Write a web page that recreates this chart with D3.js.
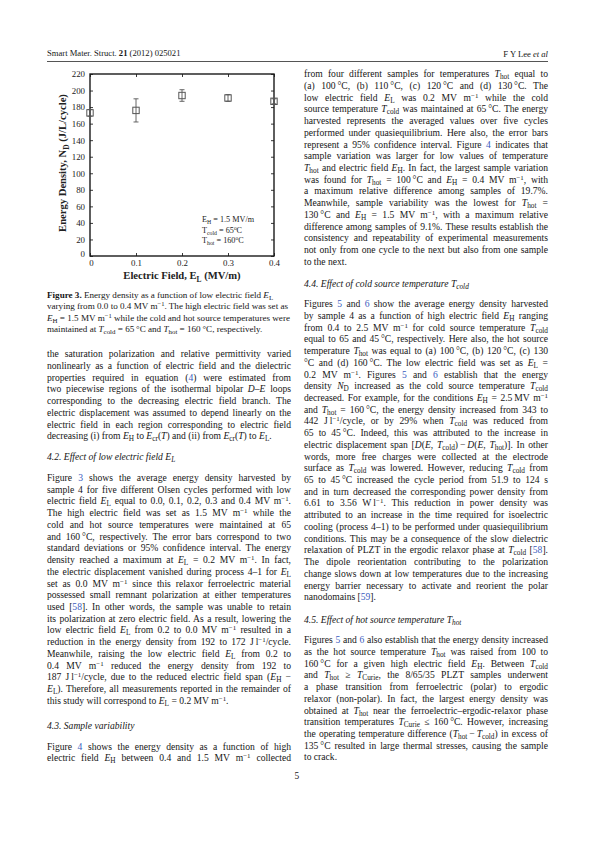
<!DOCTYPE html>
<html>
<head>
<meta charset="utf-8">
<script src="https://cdn.jsdelivr.net/npm/d3@7"></script>
<style>
  html, body { margin: 0; padding: 0; background: #fff; }
  #page { position: relative; width: 595px; height: 842px; overflow: hidden;
          font-family: "Liberation Serif", "DejaVu Serif", serif; color: #161616; }
  .ln { position: absolute; white-space: nowrap; line-height: 12px; }
  .ln sub { font-size: 76%; vertical-align: -0.28em; line-height: 0; }
  .ln sup { font-size: 72%; vertical-align: 0.42em; line-height: 0; }
  .ref { color: #3a5cc0; }
  #chart { position: absolute; left: 0; top: 0; }
  #chart text { font-family: "Liberation Serif", "DejaVu Serif", serif; fill: #222; }
</style>
</head>
<body>
<div id="page"></div>
<script>
// ---- chart data (figure 3) ----
const fieldEL = [0, 0.1, 0.2, 0.3, 0.4];
const energyND = [173, 176, 194, 191, 187];
const errorND = [4, 14, 7, 4, 3];
const xTicks = [0, 0.1, 0.2, 0.3, 0.4];
const yTicks = [0, 20, 40, 60, 80, 100, 120, 140, 160, 180, 200, 220];
const noteLines = [["E", "H", " = 1.5 MV/m"], ["T", "cold", " = 65", "C"], ["T", "hot", " = 160", "C"]];

// ---- text helpers ----
const ref = n => `<span class="ref">${n}</span>`;
const EL = '<i>E</i><sub>L</sub>', EH = '<i>E</i><sub>H</sub>', Ecr = '<i>E</i><sub>cr</sub>';
const Thot = '<i>T</i><sub>hot</sub>', Tcold = '<i>T</i><sub>cold</sub>';
const ND = '<i>N</i><sub>D</sub>', TCurie = '<i>T</i><sub>Curie</sub>';
const Mm = 'MV m<sup>\u22121</sup>', l1 = 'J\u2009l<sup>\u22121</sup>', dC = '\u2009\u00b0C';

const captionLines = [
  `<b>Figure 3.</b> Energy density as a function of low electric field ${EL}`,
  `varying from 0.0 to 0.4 ${Mm}. The high electric field was set as`,
  `${EH} = 1.5 ${Mm} while the cold and hot source temperatures were`,
  `maintained at ${Tcold} = 65${dC} and ${Thot} = 160${dC}, respectively.`
];

const leftParaA = [
  "the saturation polarization and relative permittivity varied",
  "nonlinearly as a function of electric field and the dielectric",
  `properties required in equation (${ref(4)}) were estimated from`,
  "two piecewise regions of the isothermal bipolar <i>D</i>\u2013<i>E</i> loops",
  "corresponding to the decreasing electric field branch. The",
  "electric displacement was assumed to depend linearly on the",
  "electric field in each region corresponding to electric field",
  `decreasing (i) from ${EH} to ${Ecr}(<i>T</i>) and (ii) from ${Ecr}(<i>T</i>) to ${EL}.`
];
const leftParaB = [
  `Figure ${ref(3)} shows the average energy density harvested by`,
  "sample 4 for five different Olsen cycles performed with low",
  `electric field ${EL} equal to 0.0, 0.1, 0.2, 0.3 and 0.4 ${Mm}.`,
  `The high electric field was set as 1.5 ${Mm} while the`,
  "cold and hot source temperatures were maintained at 65",
  `and 160${dC}, respectively. The error bars correspond to two`,
  "standard deviations or 95% confidence interval. The energy",
  `density reached a maximum at ${EL} = 0.2 ${Mm}. In fact,`,
  `the electric displacement vanished during process 4\u20131 for ${EL}`,
  `set as 0.0 ${Mm} since this relaxor ferroelectric material`,
  "possessed small remnant polarization at either temperatures",
  `used [${ref(58)}]. In other words, the sample was unable to retain`,
  "its polarization at zero electric field. As a result, lowering the",
  `low electric field ${EL} from 0.2 to 0.0 ${Mm} resulted in a`,
  `reduction in the energy density from 192 to 172 ${l1}/cycle.`,
  `Meanwhile, raising the low electric field ${EL} from 0.2 to`,
  `0.4 ${Mm} reduced the energy density from 192 to`,
  `187 ${l1}/cycle, due to the reduced electric field span (${EH} \u2212`,
  `${EL}). Therefore, all measurements reported in the remainder of`,
  `this study will correspond to ${EL} = 0.2 ${Mm}.`
];
const leftParaC = [
  `Figure ${ref(4)} shows the energy density as a function of high`,
  `electric field ${EH} between 0.4 and 1.5 ${Mm} collected`
];
const rightParaD = [
  `from four different samples for temperatures ${Thot} equal to`,
  `(a) 100${dC}, (b) 110${dC}, (c) 120${dC} and (d) 130${dC}. The`,
  `low electric field ${EL} was 0.2 ${Mm} while the cold`,
  `source temperature ${Tcold} was maintained at 65${dC}. The energy`,
  "harvested represents the averaged values over five cycles",
  "performed under quasiequilibrium. Here also, the error bars",
  `represent a 95% confidence interval. Figure ${ref(4)} indicates that`,
  "sample variation was larger for low values of temperature",
  `${Thot} and electric field ${EH}. In fact, the largest sample variation`,
  `was found for ${Thot} = 100${dC} and ${EH} = 0.4 ${Mm}, with`,
  "a maximum relative difference among samples of 19.7%.",
  `Meanwhile, sample variability was the lowest for ${Thot} =`,
  `130${dC} and ${EH} = 1.5 ${Mm}, with a maximum relative`,
  "difference among samples of 9.1%. These results establish the",
  "consistency and repeatability of experimental measurements",
  "not only from one cycle to the next but also from one sample",
  "to the next."
];
const rightParaE = [
  `Figures ${ref(5)} and ${ref(6)} show the average energy density harvested`,
  `by sample 4 as a function of high electric field ${EH} ranging`,
  `from 0.4 to 2.5 ${Mm} for cold source temperature ${Tcold}`,
  `equal to 65 and 45${dC}, respectively. Here also, the hot source`,
  `temperature ${Thot} was equal to (a) 100${dC}, (b) 120${dC}, (c) 130`,
  `\u00b0C and (d) 160${dC}. The low electric field was set as ${EL} =`,
  `0.2 ${Mm}. Figures ${ref(5)} and ${ref(6)} establish that the energy`,
  `density ${ND} increased as the cold source temperature ${Tcold}`,
  `decreased. For example, for the conditions ${EH} = 2.5\u2009${Mm}`,
  `and ${Thot} = 160${dC}, the energy density increased from 343 to`,
  `442 ${l1}/cycle, or by 29% when ${Tcold} was reduced from`,
  `65 to 45${dC}. Indeed, this was attributed to the increase in`,
  `electric displacement span [<i>D</i>(<i>E</i>, ${Tcold})\u2009\u2212\u2009<i>D</i>(<i>E</i>, ${Thot})]. In other`,
  "words, more free charges were collected at the electrode",
  `surface as ${Tcold} was lowered. However, reducing ${Tcold} from`,
  `65 to 45${dC} increased the cycle period from 51.9 to 124 s`,
  "and in turn decreased the corresponding power density from",
  `6.61 to 3.56 W\u2009l<sup>\u22121</sup>. This reduction in power density was`,
  "attributed to an increase in the time required for isoelectric",
  "cooling (process 4\u20131) to be performed under quasiequilibrium",
  "conditions. This may be a consequence of the slow dielectric",
  `relaxation of PLZT in the ergodic relaxor phase at ${Tcold} [${ref(58)}].`,
  "The dipole reorientation contributing to the polarization",
  "change slows down at low temperatures due to the increasing",
  "energy barrier necessary to activate and reorient the polar",
  `nanodomains [${ref(59)}].`
];
const rightParaF = [
  `Figures ${ref(5)} and ${ref(6)} also establish that the energy density increased`,
  `as the hot source temperature ${Thot} was raised from 100 to`,
  `160${dC} for a given high electric field ${EH}. Between ${Tcold}`,
  `and ${Thot} \u2265 ${TCurie}, the 8/65/35 PLZT samples underwent`,
  "a phase transition from ferroelectric (polar) to ergodic",
  "relaxor (non-polar). In fact, the largest energy density was",
  `obtained at ${Thot} near the ferroelectric\u2013ergodic-relaxor phase`,
  `transition temperatures ${TCurie} \u2264 160${dC}. However, increasing`,
  `the operating temperature difference (${Thot}\u2009\u2212\u2009${Tcold}) in excess of`,
  `135${dC} resulted in large thermal stresses, causing the sample`,
  "to crack."
];

const page = d3.select("#page");
const LH = 11.72;

// place lines of a paragraph; y0 = visual centre of first line
function block(lines, x, y0, opt) {
  const o = Object.assign({ size: 9.6, w: 244, justify: true, lastJustify: false, italic: false, dy: LH }, opt);
  const rows = lines.map((h, k) => ({ h, k, n: lines.length }));
  page.selectAll(null)
    .data(rows)
    .enter()
    .append("div")
    .attr("class", "ln")
    .style("left", x + "px")
    .style("top", d => (y0 + d.k * o.dy - 6 - 0.08 * o.size) + "px")
    .style("font-size", o.size + "px")
    .style("font-style", o.italic ? "italic" : null)
    .html(d => d.h)
    .each(function (d) {
      const last = d.k === d.n - 1;
      if (!o.justify || (last && !o.lastJustify)) return;
      const spaces = (this.textContent.match(/ /g) || []).length;
      if (!spaces) return;
      const wid = this.getBoundingClientRect().width;
      d3.select(this).style("word-spacing", ((o.w - wid) / spaces) + "px");
    });
}

// header
block(["Smart Mater. Struct. <b>21</b> (2012) 025021"], 47, 54, { size: 8.6, justify: false });
page.append("div").attr("class", "ln").style("right", (595 - 548) + "px").style("top", "47.5px")
  .style("font-size", "8.6px").html("F Y Lee <i>et al</i>");
page.append("div").style("position", "absolute").style("left", "47px").style("top", "60.5px")
  .style("width", "501px").style("height", "0.9px").style("background", "#555");

// caption and left column
block(captionLines, 47, 296, { size: 9.1, dy: 11.2, justify: false });
block(leftParaA, 47, 355, {});
block(["4.2. Effect of low electric field " + EL], 47, 457.5, { italic: true, justify: false });
block(leftParaB, 47, 478.8, {});
block(["4.3. Sample variability"], 47, 727, { italic: true, justify: false });
block(leftParaC, 47, 747.5, { lastJustify: true });

// right column
block(rightParaD, 304, 75, {});
block(["4.4. Effect of cold source temperature " + Tcold], 304, 285, { italic: true, justify: false });
block(rightParaE, 304, 305, {});
block(["4.5. Effect of hot source temperature " + Thot], 304, 621, { italic: true, justify: false });
block(rightParaF, 304, 641, {});

// page number
page.append("div").attr("class", "ln").style("left", "294.5px").style("top", "770px")
  .style("font-size", "9.4px").text("5");

// ---- the chart ----
const svg = page.append("svg").attr("id", "chart").attr("width", 595).attr("height", 300);
const x = d3.scaleLinear().domain([0, 0.4]).range([90, 274]);
const y = d3.scaleLinear().domain([0, 220]).range([256, 74]);
const fmtX = d => d === 0 ? "0" : d3.format(".1f")(d);

const gx = svg.append("g").attr("transform", "translate(0,256)")
  .call(d3.axisBottom(x).tickValues(xTicks).tickSize(-3).tickPadding(4).tickFormat(fmtX));
const gy = svg.append("g").attr("transform", "translate(90,0)")
  .call(d3.axisLeft(y).tickValues(yTicks).tickSize(-3).tickPadding(5));
svg.append("g").attr("transform", "translate(0,74)")
  .call(d3.axisTop(x).tickValues(xTicks).tickSize(-3).tickFormat(""));
svg.append("g").attr("transform", "translate(274,0)")
  .call(d3.axisRight(y).tickValues(yTicks).tickSize(-3).tickFormat(""));
svg.selectAll(".domain").remove();
svg.selectAll(".tick line").attr("stroke", "#222").attr("stroke-width", 0.9);
svg.selectAll(".tick text").style("font-size", "8.9px").attr("fill", "#333");
gy.selectAll(".tick text").filter(d => d === 0).attr("dy", "0.05em");
gx.selectAll(".tick text").filter(d => d === 0).attr("dx", "1px");

svg.append("rect").attr("x", 90).attr("y", 74).attr("width", 184).attr("height", 182)
  .attr("fill", "none").attr("stroke", "#1a1a1a").attr("stroke-width", 1.4);

const pts = fieldEL.map((v, k) => ({ v, n: energyND[k], e: errorND[k] }));
const ebar = svg.append("g").attr("stroke", "#555").attr("stroke-width", 0.9).attr("fill", "none");
ebar.selectAll("line.stem").data(pts).enter().append("line").attr("class", "stem")
  .attr("x1", d => x(d.v)).attr("x2", d => x(d.v))
  .attr("y1", d => y(d.n + d.e)).attr("y2", d => y(d.n - d.e));
ebar.selectAll("line.capt").data(pts).enter().append("line").attr("class", "capt")
  .attr("x1", d => x(d.v) - 2.5).attr("x2", d => x(d.v) + 2.5)
  .attr("y1", d => y(d.n + d.e)).attr("y2", d => y(d.n + d.e));
ebar.selectAll("line.capb").data(pts).enter().append("line").attr("class", "capb")
  .attr("x1", d => x(d.v) - 2.5).attr("x2", d => x(d.v) + 2.5)
  .attr("y1", d => y(d.n - d.e)).attr("y2", d => y(d.n - d.e));
svg.append("g").selectAll("rect").data(pts).enter().append("rect")
  .attr("x", d => x(d.v) - 3.2).attr("y", d => y(d.n) - 3.2)
  .attr("width", 6.4).attr("height", 6.4)
  .attr("fill", "none").attr("stroke", "#555").attr("stroke-width", 1);

// note inside the plot
const note = svg.append("g").style("font-size", "8.2px");
noteLines.forEach((p, k) => {
  const t = note.append("text").attr("x", 202).attr("y", 222 + k * 10.6);
  t.append("tspan").text(p[0]);
  t.append("tspan").attr("dy", 2.2).style("font-size", "5.8px").text(p[1]);
  t.append("tspan").attr("dy", -2.2).text(p[2]);
  if (p[3]) {
    t.append("tspan").attr("dy", -3).style("font-size", "5.4px").text("o");
    t.append("tspan").attr("dy", 3).text(p[3]);
  }
});

// axis titles
const xt = svg.append("text").attr("x", 182).attr("y", 279).attr("text-anchor", "middle")
  .style("font-size", "10.6px").style("font-weight", "bold");
xt.append("tspan").text("Electric Field, E");
xt.append("tspan").attr("dy", 2.5).style("font-size", "7.4px").text("L");
xt.append("tspan").attr("dy", -2.5).text(" (MV/m)");

const yt = svg.append("text").attr("transform", "translate(66,163) rotate(-90)")
  .attr("text-anchor", "middle").style("font-size", "10.6px").style("font-weight", "bold");
yt.append("tspan").text("Energy Density, N");
yt.append("tspan").attr("dy", 2.5).style("font-size", "7.4px").text("D");
yt.append("tspan").attr("dy", -2.5).text(" (J/L/cycle)");
</script>
</body>
</html>
